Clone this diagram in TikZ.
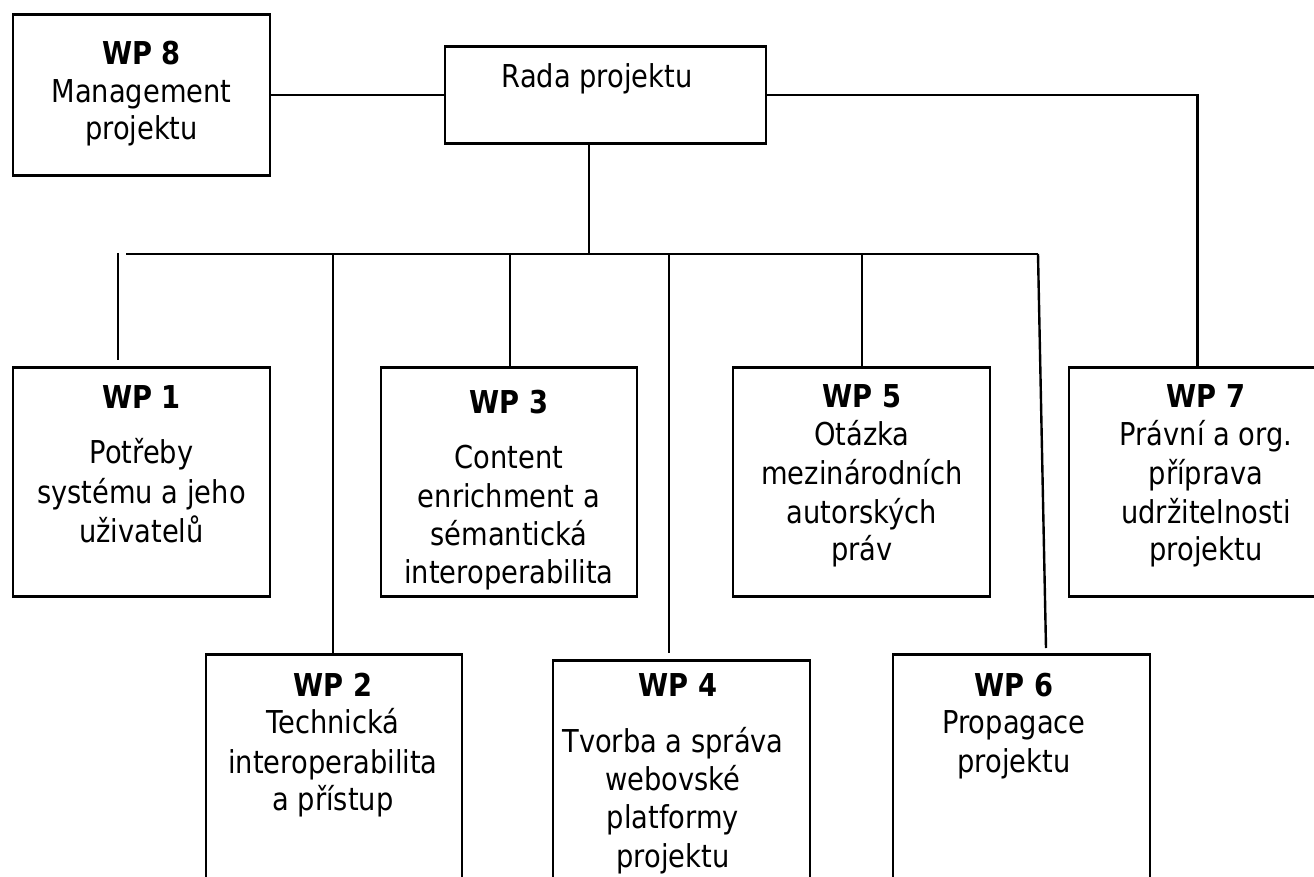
\documentclass[tikz,border=0pt]{standalone}
\usepackage{fontspec}
\setmainfont{DejaVu Sans}[FakeStretch=0.867]
\begin{document}
\begin{tikzpicture}[x=1pt,y=-1pt,
  box/.style={draw, line width=2.8pt, inner sep=0pt, minimum width=257pt},
  conn/.style={line width=2.4pt},
  txt/.style={anchor=base, inner sep=0pt, font=\fontsize{31.5}{38}\selectfont},
  txb/.style={anchor=base, inner sep=0pt, font=\fontsize{31.5}{38}\selectfont\bfseries}]
\useasboundingbox (0,0) rectangle (1314,877);
\clip (0,0) rectangle (1314,877);
% boxes
\node[box, anchor=north, minimum height=161pt] (wp8) at (141.5,13) {};
\node[box, anchor=north, minimum width=321pt, minimum height=97pt] (rada) at (605.5,45) {};
\node[box, anchor=north, minimum height=229pt] (wp1) at (141.5,366) {};
\node[box, anchor=north, minimum width=256pt, minimum height=229pt] (wp3) at (509,366) {};
\node[box, anchor=north, minimum height=229pt] (wp5) at (861.5,366) {};
\node[box, anchor=north, minimum height=229pt] (wp7) at (1197.5,366) {};
\node[box, anchor=north, minimum width=256pt, minimum height=260pt] (wp2) at (334,653) {};
\node[box, anchor=north, minimum height=260pt] (wp4) at (681.5,659) {};
\node[box, anchor=north, minimum height=260pt] (wp6) at (1021.5,653) {};
% coordinates
\coordinate (busL) at (126,254);
\coordinate (busR) at (1038,254);
\coordinate (radaDown) at (589,254);
\coordinate (b1) at (118,253);
\coordinate (e1) at (118,360);
\coordinate (b2) at (333,254);
\coordinate (b3) at (510,254);
\coordinate (b4) at (669,254);
\coordinate (e4) at (669,653);
\coordinate (b5) at (862,254);
\coordinate (e6) at (1046,648);
% connectors
\draw[conn] (wp8.east) -- (rada.west);
\draw[conn] (rada.east) -| (wp7.north);
\draw[conn] (radaDown |- rada.south) -- (radaDown);
\draw[conn] (busL) -- (busR);
\draw[conn] (b1) -- (e1);
\draw[conn] (b2) -- (b2 |- wp2.north);
\draw[conn] (b3) -- (b3 |- wp3.north);
\draw[conn] (b4) -- (e4);
\draw[conn] (b5) -- (b5 |- wp5.north);
\draw[conn] (busR) -- (e6);
% texts
\node[txb] (t8a) at (141.5,65) {WP 8};
\node[txt] (t8b) at (141.5,103) {Management};
\node[txt] (t8c) at (141.5,140) {projektu};
\node[txt] (tr) at (597,88) {Rada projektu};
\node[txb] (t1a) at (141.5,408) {WP 1};
\node[txt] (t1b) at (141.5,463) {Potřeby};
\node[txt] (t1c) at (141.5,503) {systému a jeho};
\node[txt] (t1d) at (141.5,542) {uživatelů};
\node[txb] (t3a) at (509,413) {WP 3};
\node[txt] (t3b) at (509,468) {Content};
\node[txt] (t3c) at (509,507) {enrichment a};
\node[txt] (t3d) at (509,545) {sémantická};
\node[txt] (t3e) at (509,583) {interoperabilita};
\node[txb] (t5a) at (862,407) {WP 5};
\node[txt] (t5b) at (862,445) {Otázka};
\node[txt] (t5c) at (862,484) {mezinárodních};
\node[txt] (t5d) at (862,523) {autorských};
\node[txt] (t5e) at (862,560) {práv};
\node[txb] (t7a) at (1206,407) {WP 7};
\node[txt] (t7b) at (1206,445) {Právní a org.};
\node[txt] (t7c) at (1206,484) {příprava};
\node[txt] (t7d) at (1206,523) {udržitelnosti};
\node[txt] (t7e) at (1206,560) {projektu};
\node[txb] (t2a) at (333,696) {WP 2};
\node[txt] (t2b) at (333,733) {Technická};
\node[txt] (t2c) at (333,773) {interoperabilita};
\node[txt] (t2d) at (333,810) {a přístup};
\node[txb] (t4a) at (678,696) {WP 4};
\node[txt] (t4b) at (673,752) {Tvorba a správa};
\node[txt] (t4c) at (673,790) {webovské};
\node[txt] (t4d) at (673,828) {platformy};
\node[txt] (t4e) at (673,867) {projektu};
\node[txb] (t6a) at (1014,696) {WP 6};
\node[txt] (t6b) at (1014,733) {Propagace};
\node[txt] (t6c) at (1014,772) {projektu};
\end{tikzpicture}
\end{document}
